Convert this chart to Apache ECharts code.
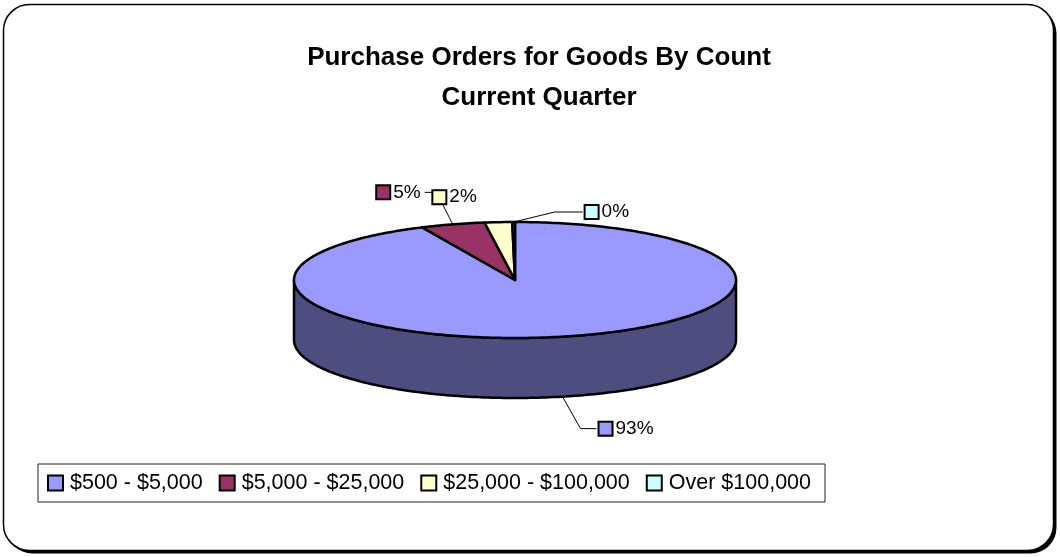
<!DOCTYPE html>
<html>
<head>
<meta charset="utf-8">
<title>Purchase Orders for Goods By Count</title>
<script src="https://cdn.jsdelivr.net/npm/echarts@6/dist/echarts.min.js"></script>
<style>
  html, body { margin: 0; padding: 0; background: #fff; }
  #chart { width: 1060px; height: 557px; }
</style>
</head>
<body>
<div id="chart"></div>
<script>
var categories = ['$500 - $5,000', '$5,000 - $25,000', '$25,000 - $100,000', 'Over $100,000'];
var shares = [93.1, 4.7, 2.0, 0.2];   // % of purchase orders
var colors = ['#9999FF', '#993366', '#FFFFCC', '#CCFFFF'];

(function(){
  var chartDom = document.getElementById('chart');
  var myChart = echarts.init(chartDom);
  var font = '"Liberation Sans", Arial, sans-serif';

  // top ellipse of the pie and the height of its wall
  var pie = { cx: 515, cy: 280, rx: 221, ry: 58, depth: 60 };
  // label placement relative to the slice's edge point
  var labelPos = [
    { dx: 34, dy: 32, elbow: -16, side: 'right' },
    { dx: -28, dy: -32, elbow: 12, side: 'left' },
    { dx: -68, dy: -25, elbow: null, side: 'right' },
    { dx: 69, dy: -10, elbow: -28, side: 'right' }
  ];

  var total = shares.reduce(function(a, b){ return a + b; }, 0);
  var starts = [], acc = 0;
  shares.forEach(function(v){ starts.push(acc / total * 360); acc += v; });

  function shade(c, k) {
    var p = echarts.color.parse(c);
    return 'rgb(' + Math.round(p[0] * k) + ',' + Math.round(p[1] * k) + ',' + Math.round(p[2] * k) + ')';
  }

  // angle in degrees, clockwise from 12 o'clock
  function pt(deg, dz) {
    var a = deg * Math.PI / 180;
    return [pie.cx + pie.rx * Math.sin(a), pie.cy - pie.ry * Math.cos(a) + (dz || 0)];
  }

  function renderSlice(i) {
    return function(params, api) {
      var a0 = starts[i], a1 = starts[i] + shares[i] / total * 360;
      var children = [];
      var d;

      var top = [[pie.cx, pie.cy]];
      for (d = a0; d < a1; d += 1) top.push(pt(d));
      top.push(pt(a1));
      children.push({
        type: 'polygon', z2: 2,
        shape: { points: top },
        style: { fill: colors[i], stroke: '#000', lineWidth: 2.5, lineJoin: 'round' }
      });

      // front wall, only the half facing us
      var s0 = Math.max(a0, 90), s1 = Math.min(a1, 270);
      if (s1 > s0) {
        var wall = [];
        for (d = s0; d < s1; d += 1) wall.push(pt(d));
        wall.push(pt(s1));
        for (d = s1; d > s0; d -= 1) wall.push(pt(d, pie.depth));
        wall.push(pt(s0, pie.depth));
        children.push({
          type: 'polygon', z2: 1,
          shape: { points: wall },
          style: { fill: shade(colors[i], 0.5), stroke: '#000', lineWidth: 2.5, lineJoin: 'round' }
        });
      }

      // label with leader line
      var mid = (a0 + a1) / 2;
      var front = Math.cos(mid * Math.PI / 180) < 0;
      var anchor = pt(mid, front ? pie.depth : 0);
      var lp = labelPos[i];
      var end = [anchor[0] + lp.dx, anchor[1] + lp.dy];
      if (lp.elbow !== null) {
        children.push({
          type: 'polyline', z2: 3,
          shape: { points: [anchor, [end[0] + lp.elbow, end[1]], end] },
          style: { stroke: '#000', lineWidth: 1, fill: null }
        });
      }
      var pct = Math.round(shares[i] / total * 100) + '%';
      children.push({
        type: 'text', z2: 4,
        style: {
          text: '{box|}{t|' + pct + '}',
          x: lp.side === 'left' ? end[0] - 4 : end[0] + 3,
          y: end[1],
          align: lp.side === 'left' ? 'right' : 'left',
          verticalAlign: 'middle',
          rich: {
            box: { width: 12, height: 12, backgroundColor: colors[i], borderColor: '#000', borderWidth: 2, verticalAlign: 'middle' },
            t: { fontFamily: font, fontSize: 19, fill: '#000', padding: [0, 0, 0, 4], verticalAlign: 'middle' }
          }
        }
      });

      return { type: 'group', children: children };
    };
  }

  var series = categories.map(function(name, i){
    return {
      type: 'custom',
      name: name,
      coordinateSystem: 'none',
      silent: true,
      itemStyle: { color: colors[i] },
      data: [[shares[i]]],
      renderItem: renderSlice(i)
    };
  });

  var option = {
    animation: false,
    backgroundColor: '#fff',
    graphic: [{
      type: 'rect', z: -11, silent: true,
      shape: { x: 6.5, y: 7.5, width: 1050, height: 546, r: 26 },
      style: { fill: '#000' }
    }, {
      type: 'rect', z: -10, silent: true,
      shape: { x: 3.5, y: 4.5, width: 1050, height: 546, r: 26 },
      style: { fill: '#fff', stroke: '#000', lineWidth: 1.5 }
    }],
    title: {
      text: 'Purchase Orders for Goods By Count\nCurrent Quarter',
      left: 534, top: 33, textAlign: 'center',
      textStyle: { fontFamily: font, fontSize: 26, fontWeight: 'bold', lineHeight: 40, color: '#000' }
    },
    legend: {
      left: 38, top: 464,
      padding: [8, 14, 8, 9],
      itemGap: 16, itemWidth: 15, itemHeight: 15,
      icon: 'rect',
      borderColor: '#222', borderWidth: 1,
      selectedMode: false,
      itemStyle: { borderColor: '#000', borderWidth: 2 },
      textStyle: { fontFamily: font, fontSize: 21.5, color: '#000', padding: [0, 0, 0, 2] },
      data: categories
    },
    series: series
  };

  option && myChart.setOption(option);
})();
</script>
</body>
</html>
